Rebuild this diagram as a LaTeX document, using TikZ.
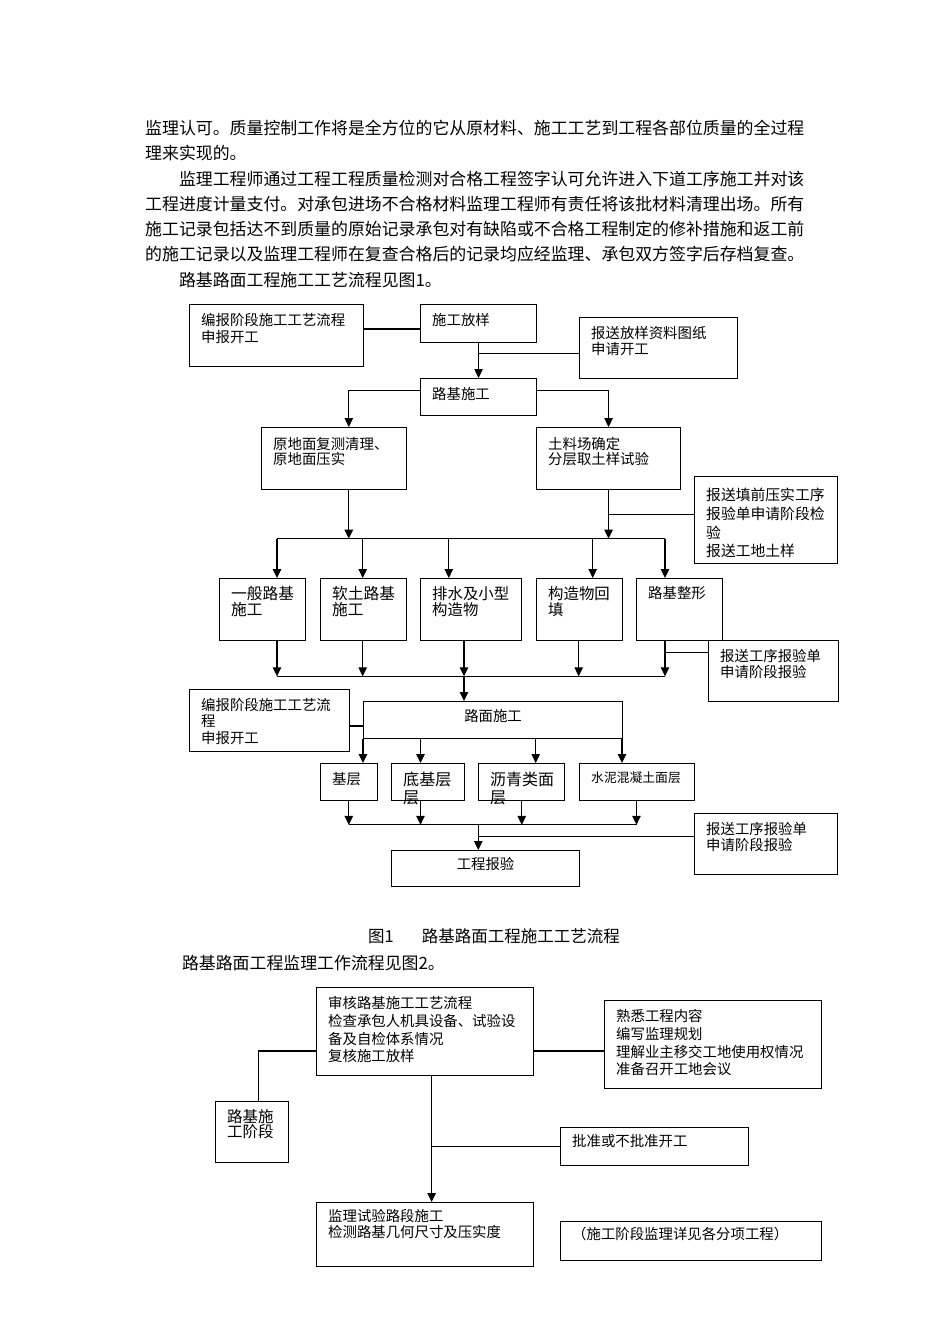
\documentclass[tikz,border=0pt]{standalone}
\usepackage{fontspec}
\newfontfamily\cjk{Noto Sans CJK SC}
\usetikzlibrary{arrows.meta}
\newcommand{\bfnt}[2]{\cjk\fontsize{#1}{#2}\selectfont}
\tikzset{
    flow/.style={
        draw,
        line width=1.1pt,
        anchor=north west,
        inner sep=0pt
    },
    lbl/.style={
        inner sep=0pt,
        align=left,
        font=\bfnt{14.4}{16.5}
    },
    tl/.style 2 args={label={[lbl, anchor=north west, xshift=12pt, yshift=-9pt, #1]north west:{#2}}},
    tc/.style 2 args={label={[lbl, anchor=north, yshift=-8pt, #1]north:{#2}}},
    conn/.style={line width=1.1pt},
    arr/.style={line width=1.1pt, -{Triangle[length=9pt, width=8.5pt]}},
    body/.style={anchor=west, inner sep=0pt, font=\bfnt{16.9}{20}}
}

\begin{document}
\begin{tikzpicture}[x=1pt, y=-1pt]
  \useasboundingbox (0,0) rectangle (950,1344);
  \fill[white] (0,0) rectangle (950,1344);

  % text above the first chart
  \node[body] (t1) at (145,128) {监理认可。质量控制工作将是全方位的它从原材料、施工工艺到工程各部位质量的全过程};
  \node[body] (t2) at (145,153.3) {理来实现的。};
  \node[body] (t3) at (178.8,178.6) {监理工程师通过工程工程质量检测对合格工程签字认可允许进入下道工序施工并对该};
  \node[body] (t4) at (145,203.9) {工程进度计量支付。对承包进场不合格材料监理工程师有责任将该批材料清理出场。所有};
  \node[body] (t5) at (145,229.2) {施工记录包括达不到质量的原始记录承包对有缺陷或不合格工程制定的修补措施和返工前};
  \node[body] (t6) at (145,254.5) {的施工记录以及监理工程师在复查合格后的记录均应经监理、承包双方签字后存档复查。};
  \node[body] (t7) at (178.8,279.8) {路基路面工程施工工艺流程见图1。};

  % chart 1: boxes
  \node[flow, minimum width=174pt, minimum height=62pt, tl={font=\bfnt{14.4}{17.4}}{编报阶段施工工艺流程\\申报开工}] (bianbao) at (189,304) {};
  \node[flow, minimum width=116pt, minimum height=38pt, tl={}{施工放样}] (fangyang) at (420,304) {};
  \node[flow, minimum width=158pt, minimum height=61pt, tl={}{报送放样资料图纸\\申请开工}] (baosong) at (579,317) {};
  \node[flow, minimum width=116pt, minimum height=37pt, tl={}{路基施工}] (luji) at (420,378) {};
  \node[flow, minimum width=145pt, minimum height=62pt, tl={yshift=-1pt, font=\bfnt{14.4}{15.3}}{原地面复测清理、\\原地面压实}] (yuandi) at (261,427) {};
  \node[flow, minimum width=144pt, minimum height=62pt, tl={yshift=-1pt, font=\bfnt{14.4}{15.3}}{土料场确定\\分层取土样试验}] (tuliao) at (536,427) {};
  \node[flow, minimum width=143pt, minimum height=87pt, tl={yshift=-3pt, font=\bfnt{14.8}{18.7}}{报送填前压实工序\\报验单申请阶段检\\验\\报送工地土样}] (tianqian) at (694,476) {};

  \node[flow, minimum width=86pt, minimum height=62pt, tl={yshift=1pt, font=\bfnt{15.7}{16.5}}{一般路基\\施工}] (yiban) at (219,578) {};
  \node[flow, minimum width=86pt, minimum height=62pt, tl={yshift=1pt, font=\bfnt{15.7}{16.5}}{软土路基\\施工}] (ruantu) at (320,578) {};
  \node[flow, minimum width=101pt, minimum height=62pt, tl={yshift=1pt, font=\bfnt{15.4}{16.5}}{排水及小型\\构造物}] (paishui) at (420,578) {};
  \node[flow, minimum width=86pt, minimum height=62pt, tl={yshift=1pt, font=\bfnt{15.4}{16.5}}{构造物回\\填}] (gouzao) at (536,578) {};
  \node[flow, minimum width=86pt, minimum height=62pt, tl={yshift=1pt}{路基整形}] (zhengxing) at (636,578) {};
  \node[flow, minimum width=130pt, minimum height=61pt, tl={font=\bfnt{14.4}{15.6}}{报送工序报验单\\申请阶段报验}] (gongxu1) at (708,640) {};

  \node[flow, minimum width=160pt, minimum height=62pt, tl={}{编报阶段施工工艺流\\程\\申报开工}] (bianbao2) at (189,689) {};
  \node[flow, minimum width=259pt, minimum height=37pt, tc={}{路面施工}] (lumian) at (363,701) {};
  \node[flow, minimum width=57pt, minimum height=37pt, tl={}{基层}] (jiceng) at (320,763) {};
  \node[flow, minimum width=73pt, minimum height=37pt, tl={font=\bfnt{16.1}{17.4}}{底基层\\层}] (dijiceng) at (391,763) {};
  \node[flow, minimum width=86pt, minimum height=37pt, tl={font=\bfnt{16}{17.4}}{沥青类面\\层}] (liqing) at (478,763) {};
  \node[flow, minimum width=115pt, minimum height=37pt, tl={font=\bfnt{12.8}{16}}{水泥混凝土面层}] (shuini) at (579,763) {};
  \node[flow, minimum width=143pt, minimum height=61pt, tl={}{报送工序报验单\\申请阶段报验}] (gongxu2) at (694,813) {};
  \node[flow, minimum width=188pt, minimum height=36pt, tc={yshift=1pt}{工程报验}] (baoyan) at (391,850) {};

  % chart 1: junctions and buses
  \coordinate (jab) at (392,329);
  \coordinate (jb) at (478,353.7);
  \coordinate (jl) at (348.8,390.7);
  \coordinate (jr) at (608,390.7);
  \coordinate (jg) at (608,514.5);
  \coordinate (b1l) at (277,538.6);
  \coordinate (b1r) at (665,538.6);
  \coordinate (ji) at (665,652.5);
  \coordinate (b2l) at (277,676.3);
  \coordinate (b2r) at (665,676.3);
  \coordinate (jk) at (363,726);
  \coordinate (b3l) at (348.8,824.8);
  \coordinate (b3r) at (636.5,824.8);
  \coordinate (jn) at (478.3,836.7);

  % chart 1: connectors
  \draw[conn] (bianbao.east |- jab) -- (fangyang.west |- jab);
  \draw[arr] (fangyang.south) -- (luji.north);
  \draw[conn] (baosong.west |- jb) -- (jb);
  \draw[arr] (luji.west |- jl) -| (jl |- yuandi.north);
  \draw[arr] (luji.east |- jr) -| (tuliao.north);
  \draw[arr] (yuandi.south -| jl) -- (jl |- b1l);
  \draw[arr] (tuliao.south) -- (tuliao.south |- b1l);
  \draw[conn] (tianqian.west |- jg) -- (jg);
  \draw[conn] (b1l) -- (b1r);
  \foreach \x/\n in {277/yiban, 362.7/ruantu, 448.8/paishui, 592.7/gouzao, 665/zhengxing}
    \draw[arr] (b1l -| \x,0) -- (\n.north -| \x,0);
  \foreach \x/\n in {277/yiban, 362.7/ruantu, 464/paishui, 578.7/gouzao, 665/zhengxing}
    \draw[arr] (\n.south -| \x,0) -- (b2l -| \x,0);
  \draw[conn] (b2l) -- (b2r);
  \draw[conn] (gongxu1.west |- ji) -- (ji);
  \draw[arr] (b2l -| 464,0) -- (lumian.north -| 464,0);
  \draw[conn] (bianbao2.east |- jk) -- (lumian.west |- jk);
  \foreach \x/\n in {363/jiceng, 420.5/dijiceng, 535.7/liqing, 622/shuini}
    \draw[arr] (lumian.south -| \x,0) -- (\n.north -| \x,0);
  \foreach \x/\n in {348.8/jiceng, 420.5/dijiceng, 521.8/liqing, 636.5/shuini}
    \draw[arr] (\n.south -| \x,0) -- (b3l -| \x,0);
  \draw[conn] (b3l) -- (b3r);
  \draw[arr] (b3l -| jn) -- (baoyan.north -| jn);
  \draw[conn] (gongxu2.west |- jn) -- (jn);

  % caption and the line before chart 2
  \node[body, font=\bfnt{16.5}{20}] (cap1) at (368,936.7) {图1\hspace{28pt}路基路面工程施工工艺流程};
  \node[body] (cap2) at (181.8,963.3) {路基路面工程监理工作流程见图2。};

  % chart 2: boxes
  \node[flow, minimum width=217pt, minimum height=88pt, tl={font=\bfnt{14.4}{17.8}}{审核路基施工工艺流程\\检查承包人机具设备、试验设\\备及自检体系情况\\复核施工放样}] (shenhe) at (316,987) {};
  \node[flow, minimum width=217pt, minimum height=88pt, tl={font=\bfnt{14.4}{17.8}}{熟悉工程内容\\编写监理规划\\理解业主移交工地使用权情况\\准备召开工地会议}] (shuxi) at (604,1000) {};
  \node[flow, minimum width=73pt, minimum height=61pt, tl={yshift=1pt, font=\bfnt{15.5}{15.3}}{路基施\\工阶段}] (lujijd) at (215,1101) {};
  \node[flow, minimum width=188pt, minimum height=38pt, tl={yshift=2pt}{批准或不批准开工}] (pizhun) at (560,1127) {};
  \node[flow, minimum width=217pt, minimum height=64pt, tl={yshift=2pt, font=\bfnt{14.4}{15.7}}{监理试验路段施工\\检测路基几何尺寸及压实度}] (shiyan) at (316,1202) {};
  \node[flow, minimum width=261pt, minimum height=39pt, tl={yshift=3pt}{（施工阶段监理详见各分项工程）}] (xiangqing) at (560,1221) {};

  % chart 2: connectors
  \coordinate (jp) at (258.6,1051);
  \coordinate (jt) at (431.6,1146.7);
  \draw[conn] (shenhe.east |- jp) -- (shuxi.west |- jp);
  \draw[conn] (shenhe.west |- jp) -| (lujijd.north -| jp);
  \draw[arr] (shenhe.south -| jt) -- (shiyan.north -| jt);
  \draw[conn] (pizhun.west |- jt) -- (jt);
\end{tikzpicture}
\end{document}
